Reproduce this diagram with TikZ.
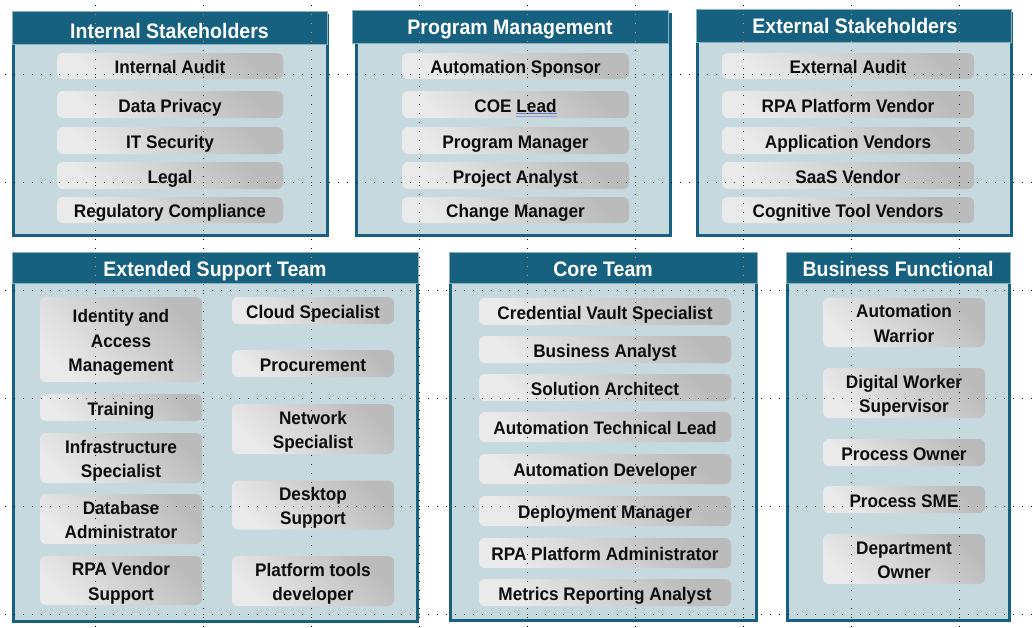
\documentclass[tikz,border=0pt]{standalone}
\usepackage{fontspec}
\setmainfont{Liberation Sans}
\newfontfamily\boxfont[FakeStretch=0.945]{Liberation Sans}
\newfontfamily\hdrfont[FakeStretch=0.93]{Liberation Sans}
\usepackage{array}
\definecolor{hdrteal}{HTML}{166080}
\definecolor{bodyfill}{HTML}{C6D9DF}
\definecolor{hdredge}{HTML}{8DB0BF}
\definecolor{boxdark}{HTML}{BBBBBB}
\definecolor{boxlight}{HTML}{EAEAEA}
\definecolor{uline}{HTML}{5A7BD6}
\definecolor{gridorange}{HTML}{E8904A}
\newcommand\rowstrut{\rule[-4.75pt]{0pt}{24.5pt}}
\newcommand\cell[1]{{\renewcommand\arraystretch{0}\setlength\tabcolsep{0pt}\begin{tabular}{>{\rowstrut}c}#1\end{tabular}}}
\newcommand\lspell[1]{\setbox0\hbox{#1}\rlap{\color{uline}\rule[-1.8pt]{\wd0}{0.9pt}}\rlap{\color{uline!70}\rule[-4.6pt]{\wd0}{0.9pt}}\box0}
\tikzset{
  hdr/.style={fill=hdrteal, draw=hdredge, line width=1pt},
  panelbody/.style={fill=bodyfill, draw=hdrteal, line width=3pt},
  ttl/.style={text=white, font=\hdrfont\fontsize{21}{24}\selectfont\bfseries, inner sep=0pt, anchor=base},
  rolebox/.style={rounded corners=6pt, top color=boxdark, bottom color=boxlight, shading angle=-45, inner sep=0pt, font=\boxfont\fontsize{18.2}{24.5}\selectfont\bfseries, text=black!95},
  gridline/.style={black, line width=1pt, dash pattern=on 1pt off 8pt, dash phase=4pt},
}
\newcommand\rb[6]{\node[rolebox, minimum width={#4-#2}, minimum height={#5-#3}] (#1) at ({(#2+#4)/2},{(#3+#5)/2}) {\cell{#6}};}
\begin{document}
\begin{tikzpicture}[x=1pt,y=-1pt]
\fill[white] (0,0) rectangle (1033,627);
\useasboundingbox (0,0) rectangle (1033,627);
% panel bodies
\draw[panelbody] (13.5,15.5) rectangle (327.5,235.5);
\draw[panelbody] (356.5,14.5) rectangle (670.5,235.5);
\draw[panelbody] (697.5,13.5) rectangle (1011.5,235.5);
\draw[panelbody] (13.5,256.5) rectangle (417.5,621.5);
\draw[panelbody] (450.5,255.5) rectangle (756.5,620.5);
\draw[panelbody] (787.5,255.5) rectangle (1009.5,620.5);
% headers
\draw[hdr] (12,11) rectangle (327,44);
\draw[hdr] (352,10) rectangle (668,43);
\draw[hdr] (696,9) rectangle (1011,42);
\draw[hdr] (12,252) rectangle (418,283);
\draw[hdr] (449,252) rectangle (757,283);
\draw[hdr] (786,252) rectangle (1010,283);
\node[ttl] (t1) at (169.5,38) {Internal Stakeholders};
\node[ttl] (t2) at (510,34) {Program Management};
\node[ttl] (t3) at (855,33) {External Stakeholders};
\node[ttl] (t4) at (215,276) {Extended Support Team};
\node[ttl] (t5) at (603,276) {Core Team};
\node[ttl] (t6) at (898,276) {Business Functional};
% Internal Stakeholders
\rb{ia}{57}{53}{283}{79}{Internal Audit}
\rb{dp}{57}{91}{283}{118}{Data Privacy}
\rb{its}{57}{127}{283}{154}{IT Security}
\rb{leg}{57}{162}{283}{189}{Legal}
\rb{rc}{57}{197}{283}{223}{Regulatory Compliance}
% Program Management
\rb{as}{402}{53}{629}{79}{Automation Sponsor}
\rb{coe}{402}{91}{629}{118}{COE \lspell{Lead}}
\rb{pm}{402}{127}{629}{154}{Program Manager}
\rb{pa}{402}{162}{629}{189}{Project Analyst}
\rb{cm}{402}{197}{629}{223}{Change Manager}
% External Stakeholders
\rb{ea}{722}{53}{974}{79}{External Audit}
\rb{rpv}{722}{91}{974}{118}{RPA Platform Vendor}
\rb{av}{722}{127}{974}{154}{Application Vendors}
\rb{sv}{722}{162}{974}{189}{SaaS Vendor}
\rb{ctv}{722}{197}{974}{223}{Cognitive Tool Vendors}
% Extended Support Team
\rb{iam}{40}{297}{202}{382}{Identity and\\Access\\Management}
\rb{tr}{40}{394}{202}{421}{Training}
\rb{inf}{40}{433}{202}{483}{Infrastructure\\Specialist}
\rb{dba}{40}{494}{202}{544}{Database\\Administrator}
\rb{rvs}{40}{556}{202}{605}{RPA Vendor\\Support}
\rb{cs}{232}{297}{394}{324}{Cloud Specialist}
\rb{proc}{232}{350}{394}{377}{Procurement}
\rb{ns}{232}{404}{394}{454}{Network\\Specialist}
\rb{ds}{232}{481}{394}{529}{Desktop\\Support}
\rb{ptd}{232}{556}{394}{606}{Platform tools\\developer}
% Core Team
\rb{cvs}{479}{298}{731}{325}{Credential Vault Specialist}
\rb{ba}{479}{336}{731}{363}{Business Analyst}
\rb{sa}{479}{374}{731}{401}{Solution Architect}
\rb{atl}{479}{412}{731}{442}{Automation Technical Lead}
\rb{ad}{479}{454}{731}{484}{Automation Developer}
\rb{dm}{479}{496}{731}{526}{Deployment Manager}
\rb{rpa}{479}{538}{731}{568}{RPA Platform Administrator}
\rb{mra}{479}{579}{731}{606}{Metrics Reporting Analyst}
% Business Functional
\rb{aw}{823}{298}{985}{347}{Automation\\Warrior}
\rb{dws}{823}{368}{985}{418}{Digital Worker\\Supervisor}
\rb{po}{823}{439}{985}{466}{Process Owner}
\rb{psme}{823}{486}{985}{513}{Process SME}
\rb{do}{823}{534}{985}{584}{Department\\Owner}
% guide grid
\foreach \gx in {95,203,311,419,527,635,743,851,959} \draw[gridline] (\gx,0) -- (\gx,627);
\foreach \gy in {74,182,290,398,506,614} \draw[gridline] (0,\gy) -- (1033,\gy);
\begin{scope}
\clip (12,11) rectangle (327,44) (352,10) rectangle (668,43) (696,9) rectangle (1011,42)
      (12,252) rectangle (418,283) (449,252) rectangle (757,283) (786,252) rectangle (1010,283);
\foreach \gx in {95,203,311,419,527,635,743,851,959} \draw[gridline, gridorange] (\gx,0) -- (\gx,627);
\end{scope}
\end{tikzpicture}
\end{document}
